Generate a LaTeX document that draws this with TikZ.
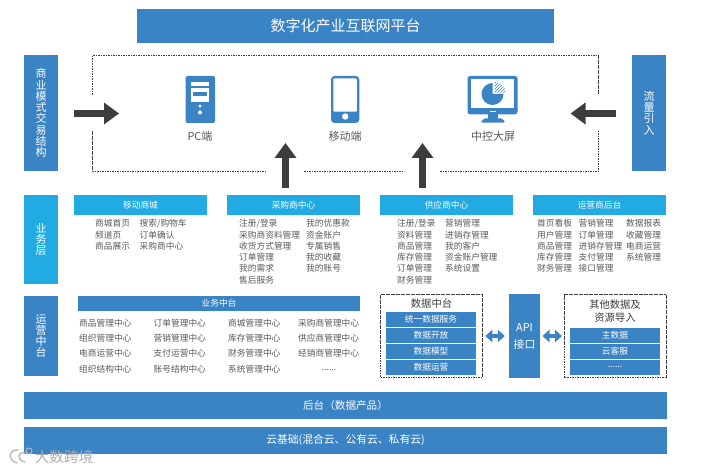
\documentclass[tikz,border=0pt]{standalone}
\usepackage{fontspec}
\setmainfont{Noto Sans CJK SC}
\usetikzlibrary{arrows.meta,patterns}
\definecolor{bblue}{HTML}{3A83C4}
\definecolor{ccyan}{HTML}{22ABE3}
\definecolor{darr}{HTML}{3D3D3D}
\definecolor{txt}{HTML}{5A5A5A}
\tikzset{
  x=1pt,y=-1pt,
  block/.style={fill=#1,draw=none,text=white,inner sep=0pt,align=center},
  block/.default=bblue,
  bigarrow/.style={line width=7pt,draw=darr,-{Triangle[length=15pt,width=21pt]}},
  dblarrow/.style={line width=4.5pt,draw=bblue,{Triangle[length=7pt,width=12pt]}-{Triangle[length=7pt,width=12pt]}},
  dashbox/.style={draw=darr,line width=0.6pt,dash pattern=on 1.6pt off 0.9pt},
  listcol/.style={anchor=north west,inner sep=0pt,align=left,text=txt,font=\fontsize{8.7}{11.3}\selectfont},
  hdr/.style={font=\fontsize{8.7}{10}\selectfont},
  iconlabel/.style={text=txt,inner sep=0pt,font=\fontsize{11}{13}\selectfont},
  vlabel/.style={font=\fontsize{11}{11.25}\selectfont},
  rowfont/.style={font=\fontsize{8.7}{10}\selectfont},
  oplist/.style={listcol,font=\fontsize{8.7}{15.2}\selectfont},
}
\newcommand{\rectnode}[6][]{\node[block=#6,minimum width={(#4-#2)*1pt},minimum height={(#5-#3)*1pt},#1] at ({(#2+#4)/2},{(#3+#5)/2})}
\begin{document}
\begin{tikzpicture}
\useasboundingbox (0,0) rectangle (706,470);
\fill[white] (0,0) rectangle (706,470);
% title
\rectnode[font=\fontsize{15}{17}\selectfont]{137}{9}{554}{43}{bblue} (title) {数字化产业互联网平台};
% side blocks
\rectnode[vlabel]{24}{55}{58}{171}{bblue} (biz) {商\\业\\模\\式\\交\\易\\结\\构};
\rectnode[vlabel]{632}{55}{666}{171}{bblue} (traffic) {流\\量\\引\\入};
\rectnode[vlabel]{24}{195}{58}{284}{ccyan} (layer) {业\\务\\层};
\rectnode[vlabel]{24}{296}{58}{376}{bblue} (ops) {运\\营\\中\\台};
% dashed frame
\draw[dashbox] (92.5,95) -- (92.5,55.5) -- (598.5,55.5) -- (598.5,95);
\draw[dashbox] (92.5,131) -- (92.5,171.5) -- (267,171.5);
\draw[dashbox] (304,171.5) -- (404,171.5);
\draw[dashbox] (440,171.5) -- (598.5,171.5) -- (598.5,131);
% PC icon
\fill[bblue,rounded corners=2pt] (185.5,76) rectangle (215,123);
\fill[white] (191,82.3) rectangle (209,85.7);
\fill[white] (191,88.3) rectangle (209,101.7);
\fill[bblue] (193.3,92) rectangle (206.7,96.3);
\fill[white] (200,106) circle (1.6);
\fill[white] (200,112.5) circle (2);
\node[iconlabel] (pc) at (200,136) {PC端};
% phone icon
\fill[bblue,rounded corners=3.5pt] (331,76) rectangle (359.3,123);
\fill[white,rounded corners=1pt] (333.3,78.3) rectangle (356.9,111.7);
\fill[white] (345.2,116.5) circle (3.2);
\node[iconlabel] (mobile) at (345.2,136) {移动端};
% monitor icon
\fill[bblue,rounded corners=2.5pt] (467.5,76) rectangle (517.5,114.3);
\fill[white] (471,79.5) rectangle (514.3,107.7);
\fill[white] (490,110.6) rectangle (495.5,112.5);
\fill[bblue] (488,114) rectangle (498,119);
\fill[bblue,rounded corners=1.5pt] (480.5,122.7) -- (484,118.3) -- (502,118.3) -- (505.5,122.7) -- cycle;
\fill[bblue] (492.5,94) -- (503.5,94) arc[start angle=0,end angle=270,radius=11] -- cycle;
\fill[pattern=north east lines,pattern color=bblue] (494.5,92.7) -- (505.5,92.7) arc[start angle=0,end angle=-90,radius=11] -- cycle;
\node[iconlabel] (screen) at (493,136) {中控大屏};
% big arrows
\coordinate (a1) at (74,113.5); \coordinate (a1e) at (119,113.5);
\coordinate (a2) at (616,113.5); \coordinate (a2e) at (570.5,113.5);
\coordinate (u1) at (285.5,188); \coordinate (u1e) at (285.5,143);
\coordinate (u2) at (422.5,188); \coordinate (u2e) at (422.5,143);
\draw[bigarrow] (a1) -- (a1e);
\draw[bigarrow] (a2) -- (a2e);
\draw[bigarrow] (u1) -- (u1e);
\draw[bigarrow] (u2) -- (u2e);
% business headers
\rectnode[hdr]{74}{195}{207}{215}{ccyan} (h1) {移动商城};
\rectnode[hdr]{227}{195}{360}{215}{ccyan} (h2) {采购商中心};
\rectnode[hdr]{380}{195}{513}{215}{ccyan} (h3) {供应商中心};
\rectnode[hdr]{533}{195}{666}{215}{ccyan} (h4) {运营商后台};
% lists
\node[listcol] (l11) at (95,219.2) {商城首页\\频道页\\商品展示};
\node[listcol] (l12) at (139.5,219.2) {搜索/购物车\\订单确认\\采购商中心};
\node[listcol] (l21) at (239,219.2) {注册/登录\\采购商资料管理\\收货方式管理\\订单管理\\我的需求\\售后服务};
\node[listcol] (l22) at (306,219.2) {我的优惠款\\资金账户\\专属销售\\我的收藏\\我的账号};
\node[listcol] (l31) at (397,219.2) {注册/登录\\资料管理\\商品管理\\库存管理\\订单管理\\财务管理};
\node[listcol] (l32) at (445,219.2) {营销管理\\进销存管理\\我的客户\\资金账户管理\\系统设置};
\node[listcol] (l41) at (537,219.2) {首页看板\\用户管理\\商品管理\\库存管理\\财务管理};
\node[listcol] (l42) at (578.5,219.2) {营销管理\\订单管理\\进销存管理\\支付管理\\接口管理};
\node[listcol] (l43) at (626,219.2) {数据报表\\收藏管理\\电商运营\\系统管理};
% ops
\rectnode[hdr]{78}{296}{360}{311}{bblue} (mid) {业务中台};
\node[oplist] (o1) at (79,319) {商品管理中心\\组织管理中心\\电商运营中心\\组织结构中心};
\node[oplist] (o2) at (153.5,319) {订单管理中心\\营销管理中心\\支付运营中心\\账号结构中心};
\node[oplist] (o3) at (228,319) {商城管理中心\\库存管理中心\\财务管理中心\\系统管理中心};
\node[oplist] (o4) at (298,319) {采购商管理中心\\供应商管理中心\\经销商管理中心};
\node[text=txt,inner sep=0pt,font=\fontsize{8.7}{10}\selectfont] (o4x) at (329,370.5) {......};
% data platform
\node[dashbox,minimum width=102pt,minimum height=83pt,inner sep=0pt] (dbox) at (431.5,336) {};
\node[inner sep=0pt,text=darr,font=\fontsize{10.3}{12}\selectfont] (dt) at (431.5,304) {数据中台};
\rectnode[rowfont]{386}{312}{476}{327}{bblue} (d1) {统一数据服务};
\rectnode[rowfont]{386}{328}{476}{343}{bblue} (d2) {数据开放};
\rectnode[rowfont]{386}{344}{476}{359}{bblue} (d3) {数据模型};
\rectnode[rowfont]{386}{360}{476}{375}{bblue} (d4) {数据运营};
% api
\rectnode{509}{294}{540}{378}{bblue} (api) {};
\node[inner sep=0pt,align=center,text=white,font=\fontsize{10.8}{17}\selectfont] (apilabel) at (524.5,336) {API\\接口};
% others
\node[dashbox,minimum width=101.5pt,minimum height=83pt,inner sep=0pt] (obox) at (615.25,336) {};
\node[inner sep=0pt,align=center,text=darr,font=\fontsize{10.3}{13.5}\selectfont] (ot) at (615,311) {其他数据及\\资源导入};
\rectnode[rowfont]{570}{328}{660}{343}{bblue} (e1) {主数据};
\rectnode[rowfont]{570}{344}{660}{359}{bblue} (e2) {云客服};
\rectnode[rowfont]{570}{360}{660}{375}{bblue} (e3) {......};
% double arrows
\draw[dblarrow] ([xshift=2.5pt]dbox.east) -- ([xshift=-4pt]api.west);
\draw[dblarrow] ([xshift=2.3pt]api.east) -- ([xshift=-2.2pt]obox.west);
% bottom bars
\rectnode[font=\fontsize{10.6}{12}\selectfont]{24}{392}{667}{419}{bblue} (back) {后台（数据产品）};
\rectnode[font=\fontsize{10.8}{12}\selectfont]{24}{427}{667}{454}{bblue} (cloud) {云基础(混合云、公有云、私有云)};
% watermark
\draw[gray!55,line width=1.4pt,line cap=round] (18,450) .. controls (8,449) and (8,461) .. (17,463);
\draw[gray!55,line width=1.4pt,line cap=round] (25,453) .. controls (18,451) and (16,460) .. (25,462);
\draw[gray!55,line width=1pt] (29,451) circle (3);
\node[inner sep=0pt,text=gray!65,font=\fontsize{14.6}{16}\selectfont] (wm) at (64,456.5) {大数跨境};
\end{tikzpicture}
\end{document}
